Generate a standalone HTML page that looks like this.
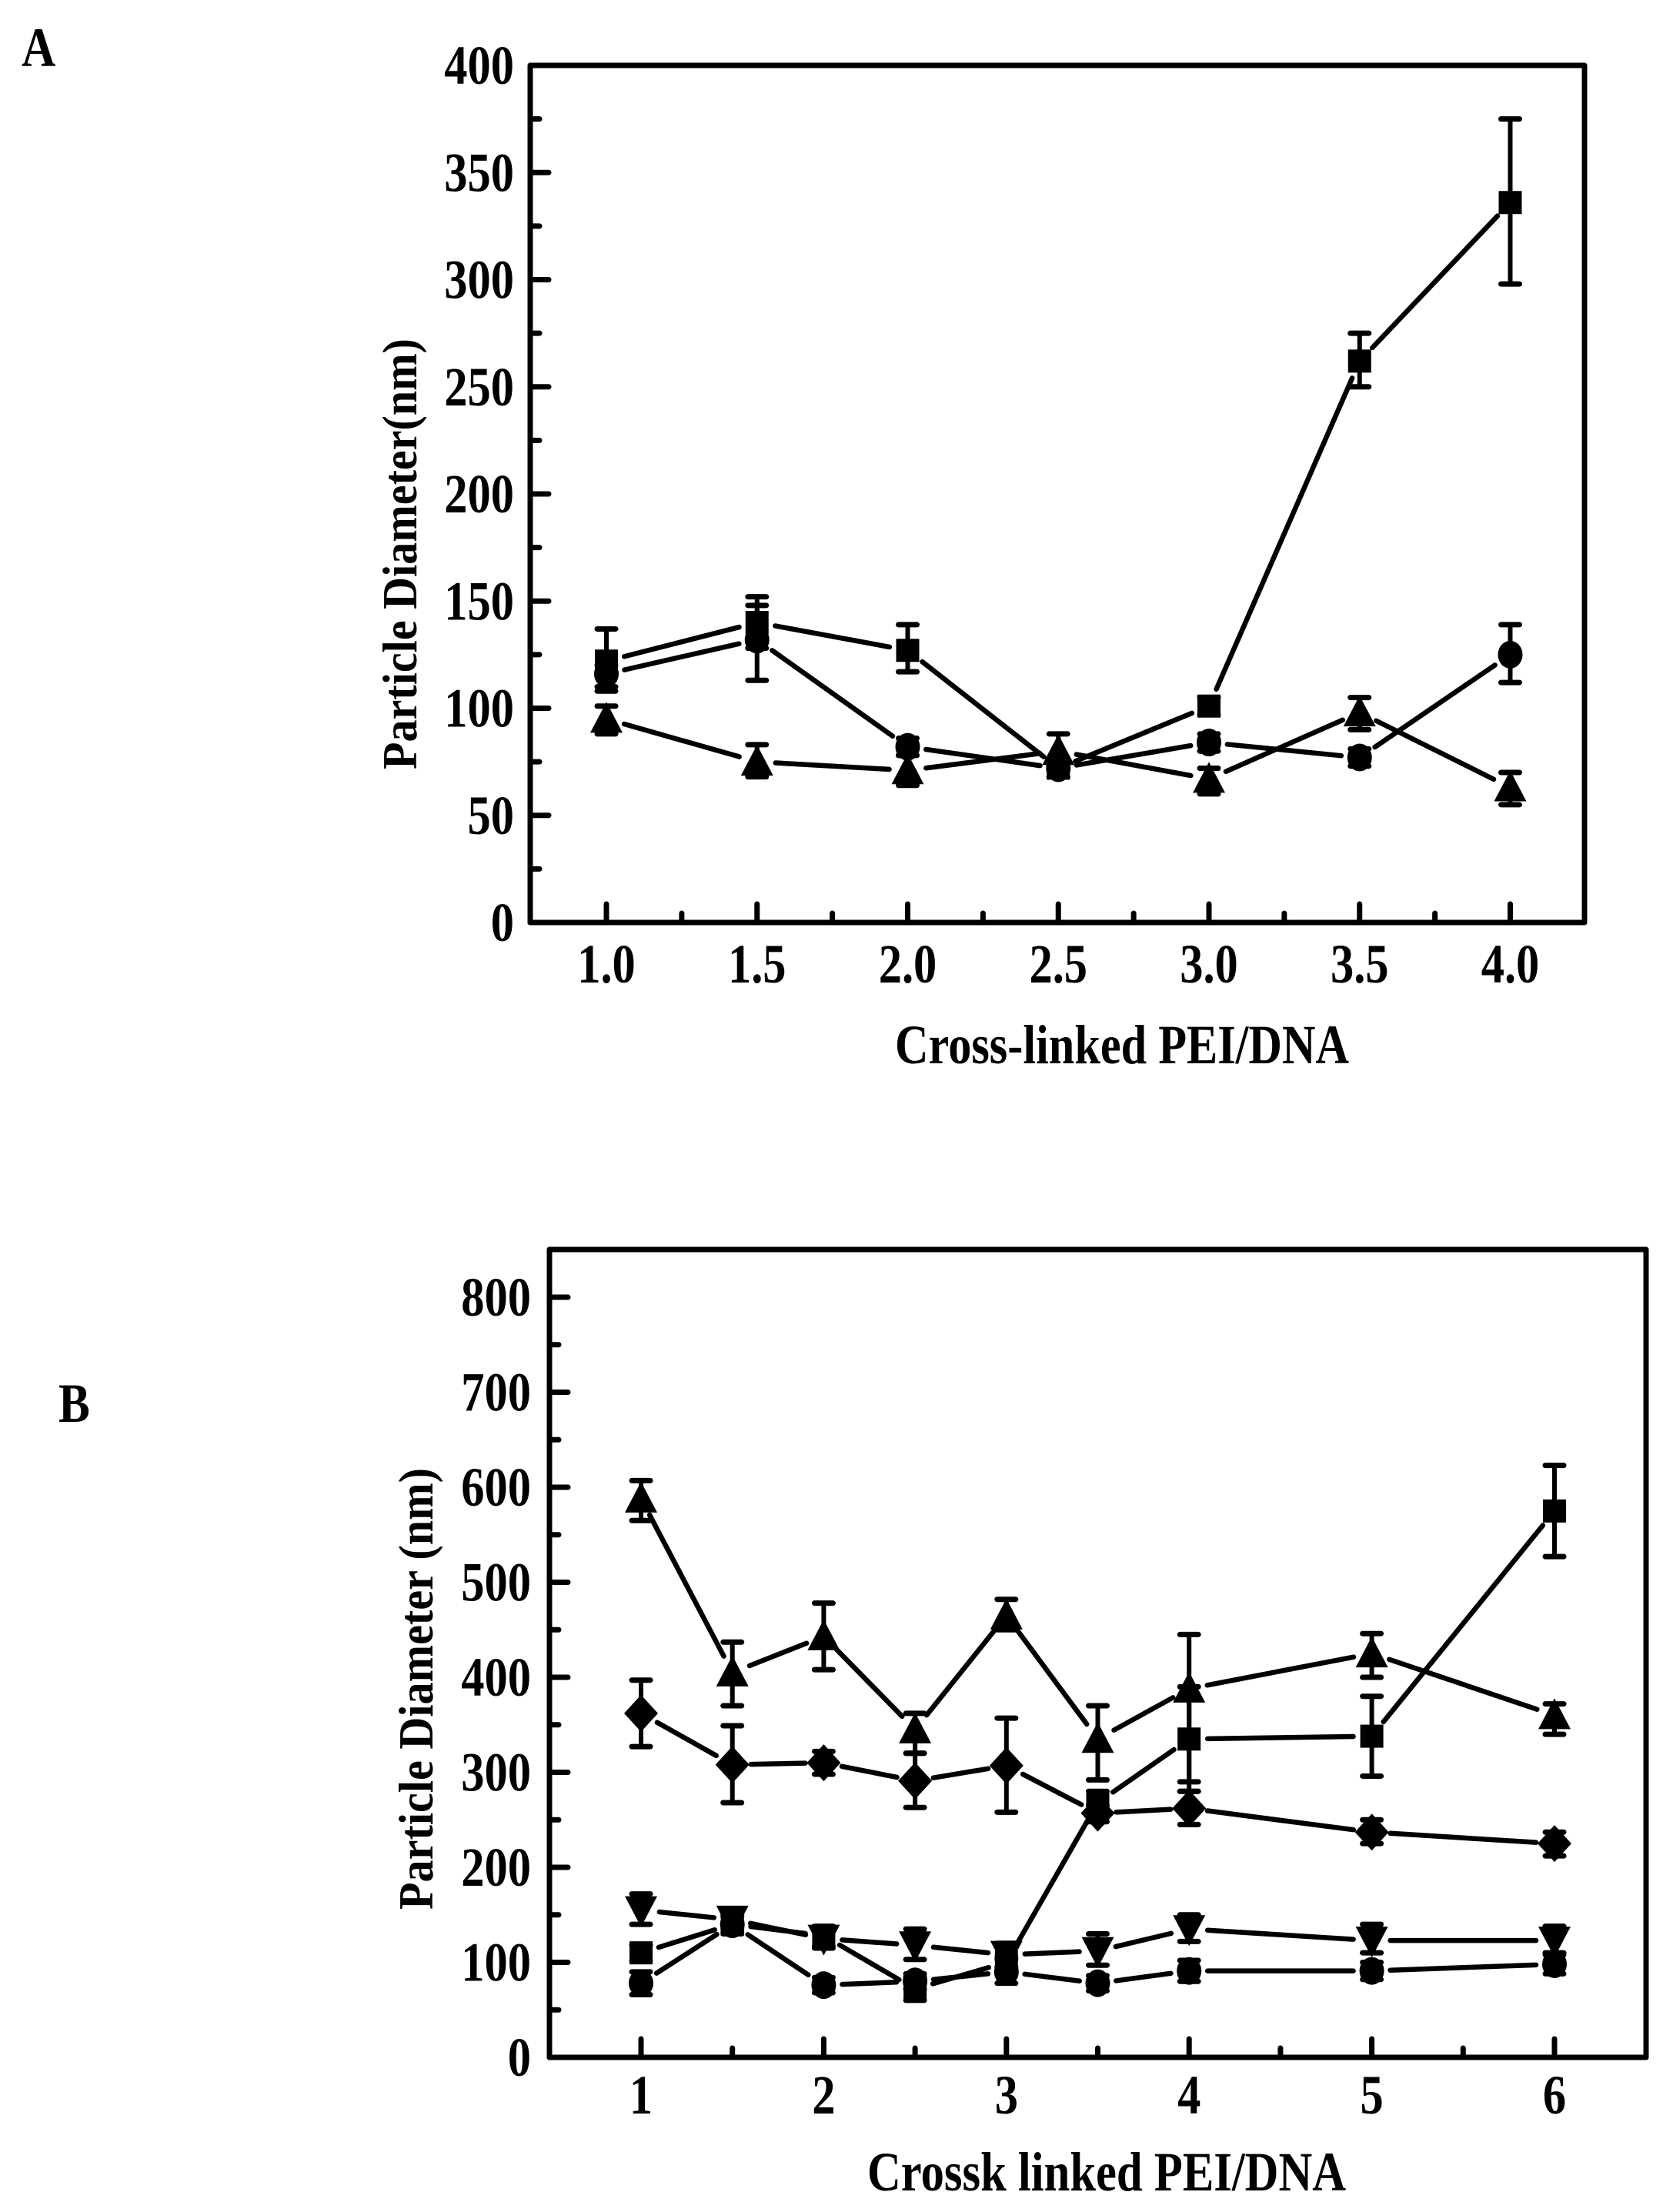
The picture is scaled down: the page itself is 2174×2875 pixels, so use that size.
<!DOCTYPE html>
<html><head><meta charset="utf-8"><style>
html,body{margin:0;padding:0;background:#fff;}
svg{display:block;}
text{font-family:"Liberation Serif",serif;font-weight:bold;fill:#000;}
</style></head><body>
<svg id="s" width="2174" height="2875" viewBox="0 0 2174 2875" xmlns="http://www.w3.org/2000/svg">
<text x="0" y="0" font-size="72" transform="translate(28,86) scale(0.85,1)">A</text>
<text x="0" y="0" font-size="72" transform="translate(76,1848) scale(0.85,1)">B</text>
<text x="0" y="0" font-size="64" transform="translate(541,720) rotate(-90)" text-anchor="middle" textLength="560" lengthAdjust="spacingAndGlyphs">Particle Diameter(nm)</text>
<text x="0" y="0" font-size="64" transform="translate(562,2195) rotate(-90)" text-anchor="middle" textLength="574" lengthAdjust="spacingAndGlyphs">Particle Diameter (nm)</text>
<text x="1458" y="1382" font-size="72" text-anchor="middle" textLength="590" lengthAdjust="spacingAndGlyphs">Cross-linked PEI/DNA</text>
<text x="1438" y="2847" font-size="72" text-anchor="middle" textLength="622" lengthAdjust="spacingAndGlyphs">Crossk linked PEI/DNA</text>
</svg>
<script>
var S=document.getElementById('s'),NS='http://www.w3.org/2000/svg';
function el(t,a,tx){var e=document.createElementNS(NS,t);for(var k in a)e.setAttribute(k,a[k]);if(tx!=null)e.textContent=tx;S.appendChild(e);return e;}
function ln(x1,y1,x2,y2,w){el('line',{x1:x1,y1:y1,x2:x2,y2:y2,stroke:'#000','stroke-width':w||6,'stroke-linecap':'round'});}
function marker(t,x,y){
 if(t=='s')el('rect',{x:x-15,y:y-15,width:30,height:30,fill:'#000'});
 else if(t=='c')el('ellipse',{cx:x,cy:y,rx:16,ry:18,fill:'#000'});
 else if(t=='t')el('polygon',{points:(x-21)+','+(y+18)+' '+(x+21)+','+(y+18)+' '+x+','+(y-22),fill:'#000'});
 else if(t=='v')el('polygon',{points:(x-21)+','+(y-18)+' '+(x+21)+','+(y-18)+' '+x+','+(y+22),fill:'#000'});
 else if(t=='d')el('polygon',{points:(x-22)+','+y+' '+x+','+(y-24)+' '+(x+22)+','+y+' '+x+','+(y+24),fill:'#000'});
}
function lbl(x,y,s,anchor){el('text',{x:0,y:0,'font-size':72,'text-anchor':anchor,transform:'translate('+x+','+y+') scale(0.84,1)'},s);}
function chart(c){
 var X=function(t){return c.x0+(t-c.t0)*c.sx;},Y=function(v){return c.yb-v*c.sy;};
 c.series.forEach(function(s){
  var p=s.d.map(function(d){return [X(d[0]),Y(d[1])];});
  for(var i=0;i<p.length-1;i++){
   var dx=p[i+1][0]-p[i][0],dy=p[i+1][1]-p[i][1],L=Math.sqrt(dx*dx+dy*dy),g=Math.min(24,L/3);
   ln(p[i][0]+dx/L*g,p[i][1]+dy/L*g,p[i+1][0]-dx/L*g,p[i+1][1]-dy/L*g,6.5);
  }
  s.d.forEach(function(d,i){
   if(d[2]!=null){var x=p[i][0];ln(x,Y(d[2]),x,Y(d[3]),6);ln(x-12,Y(d[2]),x+12,Y(d[2]),7);ln(x-12,Y(d[3]),x+12,Y(d[3]),7);}
   marker(s.m,p[i][0],p[i][1]);
  });
 });
 el('rect',{x:c.L,y:c.T,width:c.R-c.L,height:c.yb-c.T,fill:'none',stroke:'#000','stroke-width':7,'stroke-linejoin':'round'});
 c.yt.forEach(function(v,i){var y=Y(v),maj=(i%2==0);ln(c.L,y,c.L+(maj?24:12),y,7);
  if(maj)lbl(c.ylx,y+24,''+v,'end');});
 c.xt.forEach(function(t){var x=X(t[0]);ln(x,c.yb,x,c.yb-(t[1]?24:12),7);
  if(t[1])lbl(x,c.xly,t[2],'middle');});
}
var yA=[];for(var v=0;v<=400;v+=25)yA.push(v);
chart({L:689,R:2059,T:85,yb:1199,x0:788,t0:1,sx:391.5,sy:2.785,ylx:668,xly:1277,
 yt:yA,
 xt:[[1,1,'1.0'],[1.25,0],[1.5,1,'1.5'],[1.75,0],[2,1,'2.0'],[2.25,0],[2.5,1,'2.5'],[2.75,0],[3,1,'3.0'],[3.25,0],[3.5,1,'3.5'],[3.75,0],[4,1,'4.0']],
 series:[
 {m:'s',d:[[1,122,137,108],[1.5,140,152,128],[2,127,139,117],[2.5,72,76,68],[3,101,105,97],[3.5,262,275,250],[4,336,375,298]]},
 {m:'c',d:[[1,116,120,110],[1.5,132,148,113],[2,82,86,78],[2.5,72,76,68],[3,84,88,80],[3.5,77,81,73],[4,125,139,112]]},
 {m:'t',d:[[1,95,101,88],[1.5,75,83,68],[2,71,78,64],[2.5,80,88,72],[3,67,72,60],[3.5,98,105,90],[4,63,70,55]]}
 ]});
var yB=[];for(var v=0;v<=800;v+=50)yB.push(v);
chart({L:714,R:2139,T:1624,yb:2674,x0:833,t0:1,sx:237.4,sy:1.235,ylx:690,xly:2747,
 yt:yB,
 xt:[[1,1,'1'],[1.5,0],[2,1,'2'],[2.5,0],[3,1,'3'],[3.5,0],[4,1,'4'],[4.5,0],[5,1,'5'],[5.5,0],[6,1,'6']],
 series:[
 {m:'t',d:[[1,588,607,565],[1.5,405,437,370],[2,443,478,408],[2.5,345,362,320],[3,465,482,450],[3.5,335,370,292],[4,388,445,280],[5,425,446,400],[6,360,372,340]]},
 {m:'d',d:[[1,362,397,327],[1.5,308,349,268],[2,310,322,298],[2.5,291,320,263],[3,307,357,258],[3.5,257,265,248],[4,262,280,245],[5,237,250,225],[6,225,237,212]]},
 {m:'s',d:[[1,110,118,102],[1.5,140,150,130],[2,128,138,115],[2.5,72,85,60],[3,100,105,95],[3.5,268,280,255],[4,335,390,290],[5,338,380,296],[6,575,623,527]]},
 {m:'v',d:[[1,155,172,140],[1.5,145,155,135],[2,125,133,117],[2.5,118,135,103],[3,108,120,95],[3.5,112,130,97],[4,135,150,122],[5,123,140,110],[6,123,138,110]]},
 {m:'c',d:[[1,78,90,66],[1.5,140,148,132],[2,76,84,68],[2.5,80,88,72],[3,90,103,78],[3.5,78,86,70],[4,91,102,80],[5,91,100,82],[6,98,108,88]]}
 ]});
</script>
</body></html>
